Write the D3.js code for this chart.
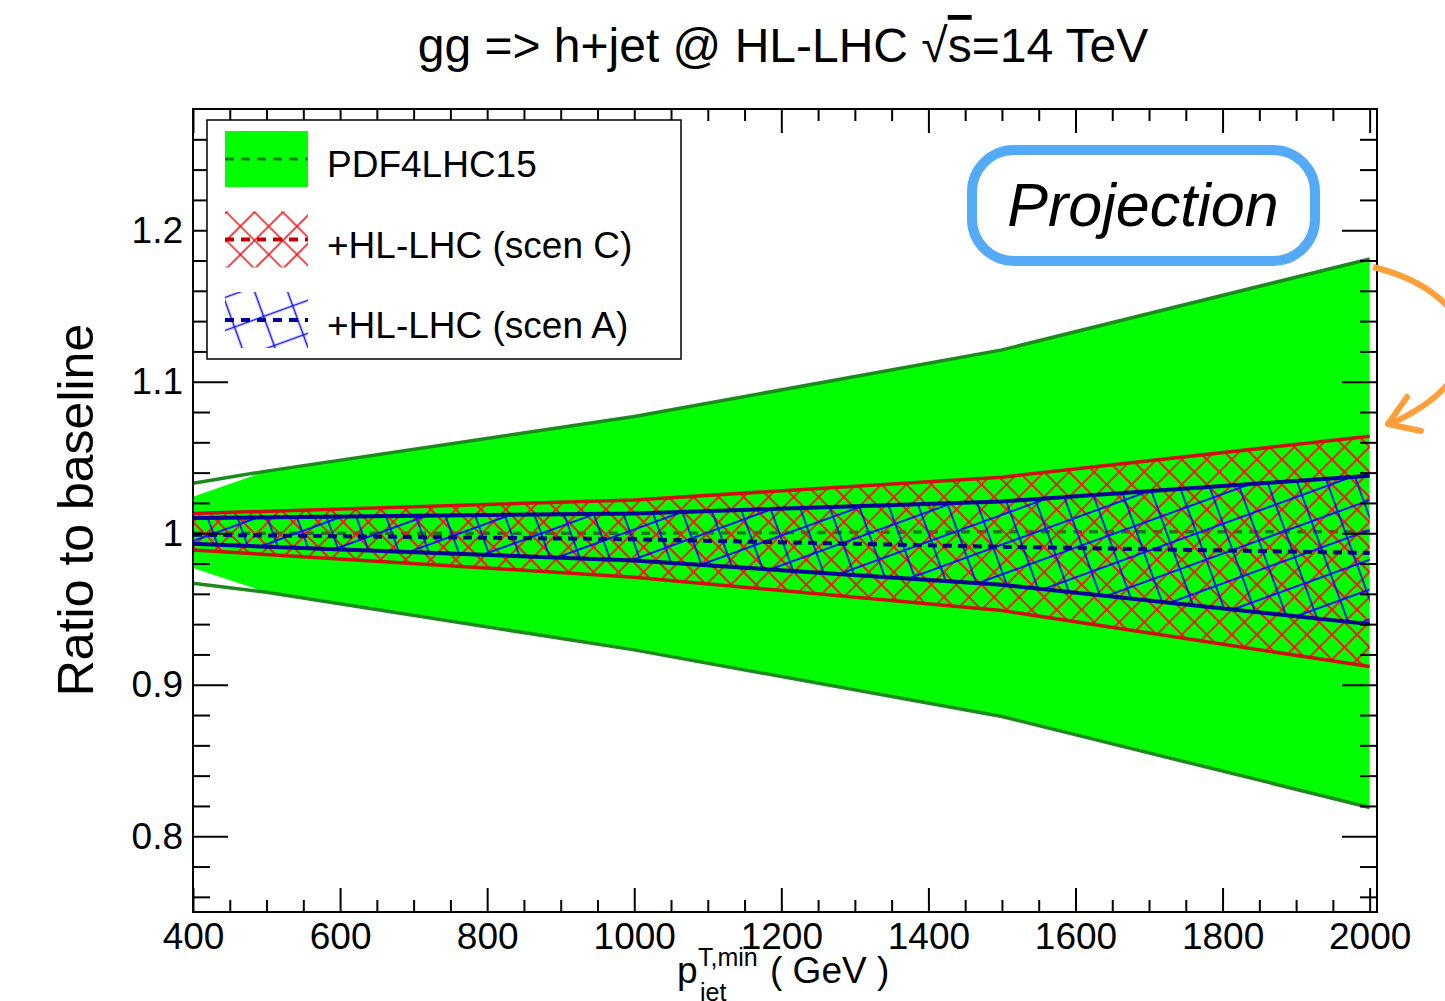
<!DOCTYPE html>
<html>
<head>
<meta charset="utf-8">
<script src="https://cdn.jsdelivr.net/npm/d3@7"></script>
<style>
  body { margin: 0; background: #fff; }
  svg text { font-family: "Liberation Sans", Arial, sans-serif; }
</style>
</head>
<body>
<div id="chart"></div>
<script>
// values
const pdfX = [400, 500, 1000, 1500, 2000]
const pdfUp = [1.033, 1.041, 1.077, 1.121, 1.181]
const pdfLo = [0.967, 0.961, 0.923, 0.879, 0.819]
const pdfFillUp = [1.024, 1.041, 1.077, 1.121, 1.181]
const pdfFillLo = [0.977, 0.961, 0.923, 0.879, 0.819]
const pdfCentral = [1.000, 1.000, 1.000, 1.001, 1.001]

const hlX = [400, 1000, 1500, 2000]
const scenCUp = [1.013, 1.022, 1.037, 1.064]
const scenCLo = [0.989, 0.971, 0.949, 0.912]
const scenAUp = [1.010, 1.013, 1.021, 1.038]
const scenALo = [0.993, 0.982, 0.966, 0.940]
const scenACentral = [0.999, 0.996, 0.991, 0.987]

const xMajorTicks = [400, 600, 800, 1000, 1200, 1400, 1600, 1800, 2000]
const yMajorTicks = [0.8, 0.9, 1.0, 1.1, 1.2]
const yTickLabels = ["0.8", "0.9", "1", "1.1", "1.2"]
const legendLabels = ["PDF4LHC15", "+HL-LHC (scen C)", "+HL-LHC (scen A)"]

function drawChart() {
  let dimensions = {
    width: 1445,
    height: 1001,
    margin: { top: 109, right: 68, bottom: 89, left: 193 },
  }
  dimensions.boundedWidth = dimensions.width - dimensions.margin.left - dimensions.margin.right
  dimensions.boundedHeight = dimensions.height - dimensions.margin.top - dimensions.margin.bottom

  const wrapper = d3.select("#chart")
    .append("svg")
    .attr("width", dimensions.width)
    .attr("height", dimensions.height)

  const defs = wrapper.append("defs")
  const hatch = (id, size, angle, color, w) => {
    const p = defs.append("pattern")
      .attr("id", id)
      .attr("patternUnits", "userSpaceOnUse")
      .attr("width", size)
      .attr("height", size)
      .attr("patternTransform", `rotate(${angle})`)
    p.append("path")
      .attr("d", `M0,${size / 2}H${size}M${size / 2},0V${size}`)
      .attr("stroke", color)
      .attr("stroke-width", w)
      .attr("fill", "none")
  }
  hatch("redHatch", 17.7, 45, "#ff1010", 1.8)
  hatch("blueHatch", 28, -20, "#1010ff", 1.8)
  hatch("redHatchLeg", 20, 45, "#ff1010", 1.6)
  hatch("blueHatchLeg", 31, -20, "#1010ff", 1.6)

  const bounds = wrapper.append("g")
    .attr("transform", `translate(${dimensions.margin.left},${dimensions.margin.top})`)

  const xScale = d3.scaleLinear()
    .domain([400, 2010])
    .range([0, dimensions.boundedWidth])
  const yScale = d3.scaleLinear()
    .domain([0.75, 1.28])
    .range([dimensions.boundedHeight, 0])

  const area = (xs, lo, hi) => d3.area()
    .x((d, i) => xScale(xs[i]))
    .y0((d, i) => yScale(lo[i]))
    .y1((d, i) => yScale(hi[i]))(xs)
  const line = (xs, ys) => d3.line()
    .x((d, i) => xScale(xs[i]))
    .y((d, i) => yScale(ys[i]))(xs)

  // PDF4LHC15 band
  bounds.append("path")
    .attr("d", area(pdfX, pdfFillLo, pdfFillUp))
    .attr("fill", "#00ff00")
  ;[pdfUp, pdfLo].forEach(ys => {
    bounds.append("path")
      .attr("d", line(pdfX, ys))
      .attr("fill", "none")
      .attr("stroke", "#1c8a1c")
      .attr("stroke-width", 3.5)
  })
  bounds.append("path")
    .attr("d", line(pdfX, pdfCentral))
    .attr("fill", "none")
    .attr("stroke", "#1a7a1a")
    .attr("stroke-width", 3.5)
    .attr("stroke-dasharray", "9,7")

  // scen C
  bounds.append("path")
    .attr("d", area(hlX, scenCLo, scenCUp))
    .attr("fill", "url(#redHatch)")
  ;[scenCUp, scenCLo].forEach(ys => {
    bounds.append("path")
      .attr("d", line(hlX, ys))
      .attr("fill", "none")
      .attr("stroke", "#d01010")
      .attr("stroke-width", 3.5)
  })

  // scen A
  bounds.append("path")
    .attr("d", area(hlX, scenALo, scenAUp))
    .attr("fill", "url(#blueHatch)")
  ;[scenAUp, scenALo].forEach(ys => {
    bounds.append("path")
      .attr("d", line(hlX, ys))
      .attr("fill", "none")
      .attr("stroke", "#000099")
      .attr("stroke-width", 4)
  })
  bounds.append("path")
    .attr("d", line(hlX, scenACentral))
    .attr("fill", "none")
    .attr("stroke", "#000088")
    .attr("stroke-width", 4)
    .attr("stroke-dasharray", "9,6")

  // axes, ticks inward on all four sides
  const xMinor = d3.range(8, 41).filter(i => i % 4 !== 0).map(i => i * 50)
  const yMinor = d3.range(38, 64).filter(i => i % 5 !== 0).map(i => i / 50)
  const styleAxis = g => {
    g.select(".domain").remove()
    g.selectAll(".tick line").attr("stroke", "#000").attr("stroke-width", 2)
    g.selectAll(".tick text")
      .attr("fill", "#000")
      .style("font-size", "37px")
      .style("font-family", "'Liberation Sans', Arial, sans-serif")
  }
  const H = dimensions.boundedHeight, W = dimensions.boundedWidth

  bounds.append("g").attr("transform", `translate(0,${H})`)
    .call(d3.axisBottom(xScale).tickValues(xMajorTicks).tickSize(-24).tickPadding(11).tickFormat(d3.format("d")))
    .call(styleAxis)
  bounds.append("g").attr("transform", `translate(0,${H})`)
    .call(d3.axisBottom(xScale).tickValues(xMinor).tickSize(-12).tickFormat(""))
    .call(styleAxis)
  bounds.append("g")
    .call(d3.axisTop(xScale).tickValues(xMajorTicks).tickSize(-24).tickFormat(""))
    .call(styleAxis)
  bounds.append("g")
    .call(d3.axisTop(xScale).tickValues(xMinor).tickSize(-12).tickFormat(""))
    .call(styleAxis)
  bounds.append("g")
    .call(d3.axisLeft(yScale).tickValues(yMajorTicks).tickSize(-35).tickPadding(10)
      .tickFormat((d, i) => yTickLabels[i]))
    .call(styleAxis)
  bounds.append("g")
    .call(d3.axisLeft(yScale).tickValues(yMinor).tickSize(-17).tickFormat(""))
    .call(styleAxis)
  bounds.append("g").attr("transform", `translate(${W},0)`)
    .call(d3.axisRight(yScale).tickValues(yMajorTicks).tickSize(-35).tickFormat(""))
    .call(styleAxis)
  bounds.append("g").attr("transform", `translate(${W},0)`)
    .call(d3.axisRight(yScale).tickValues(yMinor).tickSize(-17).tickFormat(""))
    .call(styleAxis)

  bounds.append("rect")
    .attr("width", W)
    .attr("height", H)
    .attr("fill", "none")
    .attr("stroke", "#000")
    .attr("stroke-width", 2)

  // legend
  const legend = wrapper.append("g")
  legend.append("rect")
    .attr("x", 207).attr("y", 120)
    .attr("width", 474).attr("height", 239)
    .attr("fill", "#fff")
    .attr("stroke", "#000")
    .attr("stroke-width", 1.5)
  const legFills = ["#00ff00", "url(#redHatchLeg)", "url(#blueHatchLeg)"]
  const legDash = ["#1a7a1a", "#c00000", "#000099"]
  legendLabels.forEach((label, i) => {
    const y0 = 131 + i * 80.5
    legend.append("rect")
      .attr("x", 225).attr("y", y0)
      .attr("width", 83).attr("height", 56)
      .attr("fill", legFills[i])
    legend.append("line")
      .attr("x1", 225).attr("x2", 308)
      .attr("y1", y0 + 28).attr("y2", y0 + 28)
      .attr("stroke", legDash[i])
      .attr("stroke-width", i === 0 ? 3 : 4)
      .attr("stroke-dasharray", "9,7")
    legend.append("text")
      .attr("x", 327).attr("y", y0 + 46)
      .style("font-size", "37px")
      .text(label)
  })

  // title
  const title = wrapper.append("text")
    .attr("x", 783).attr("y", 62)
    .attr("text-anchor", "middle")
    .style("font-size", "48px")
  title.append("tspan").text("gg => h+jet @ HL-LHC  \u221A")
  title.append("tspan").style("text-decoration", "overline").text("s")
  title.append("tspan").text("=14 TeV")

  // axis titles
  wrapper.append("text")
    .attr("transform", "translate(93,510) rotate(-90)")
    .attr("text-anchor", "middle")
    .style("font-size", "50px")
    .text("Ratio to baseline")
  wrapper.append("text").attr("x", 677).attr("y", 983).style("font-size", "37px").text("p")
  wrapper.append("text").attr("x", 698).attr("y", 966).style("font-size", "25px").text("T,min")
  wrapper.append("text").attr("x", 700).attr("y", 1001).style("font-size", "25px").text("jet")
  wrapper.append("text").attr("x", 770).attr("y", 983).style("font-size", "37px").text("( GeV )")

  // Projection annotation
  wrapper.append("rect")
    .attr("x", 972).attr("y", 150)
    .attr("width", 343).attr("height", 111)
    .attr("rx", 42)
    .attr("fill", "none")
    .attr("stroke", "#55aaf8")
    .attr("stroke-width", 10)
  wrapper.append("text")
    .attr("x", 1143).attr("y", 226)
    .attr("text-anchor", "middle")
    .style("font-size", "61px")
    .style("font-style", "italic")
    .text("Projection")

  // curved arrow leaving the page on the right
  wrapper.append("path")
    .attr("d", "M1373,267 C1475,292 1505,372 1390,424")
    .attr("fill", "none")
    .attr("stroke", "#ff9f3a")
    .attr("stroke-width", 6)
  wrapper.append("path")
    .attr("d", "M1407,397 L1388,424 L1421,431")
    .attr("fill", "none")
    .attr("stroke", "#ff9f3a")
    .attr("stroke-width", 6)
    .attr("stroke-linecap", "round")
    .attr("stroke-linejoin", "round")
}
drawChart()
</script>
</body>
</html>
